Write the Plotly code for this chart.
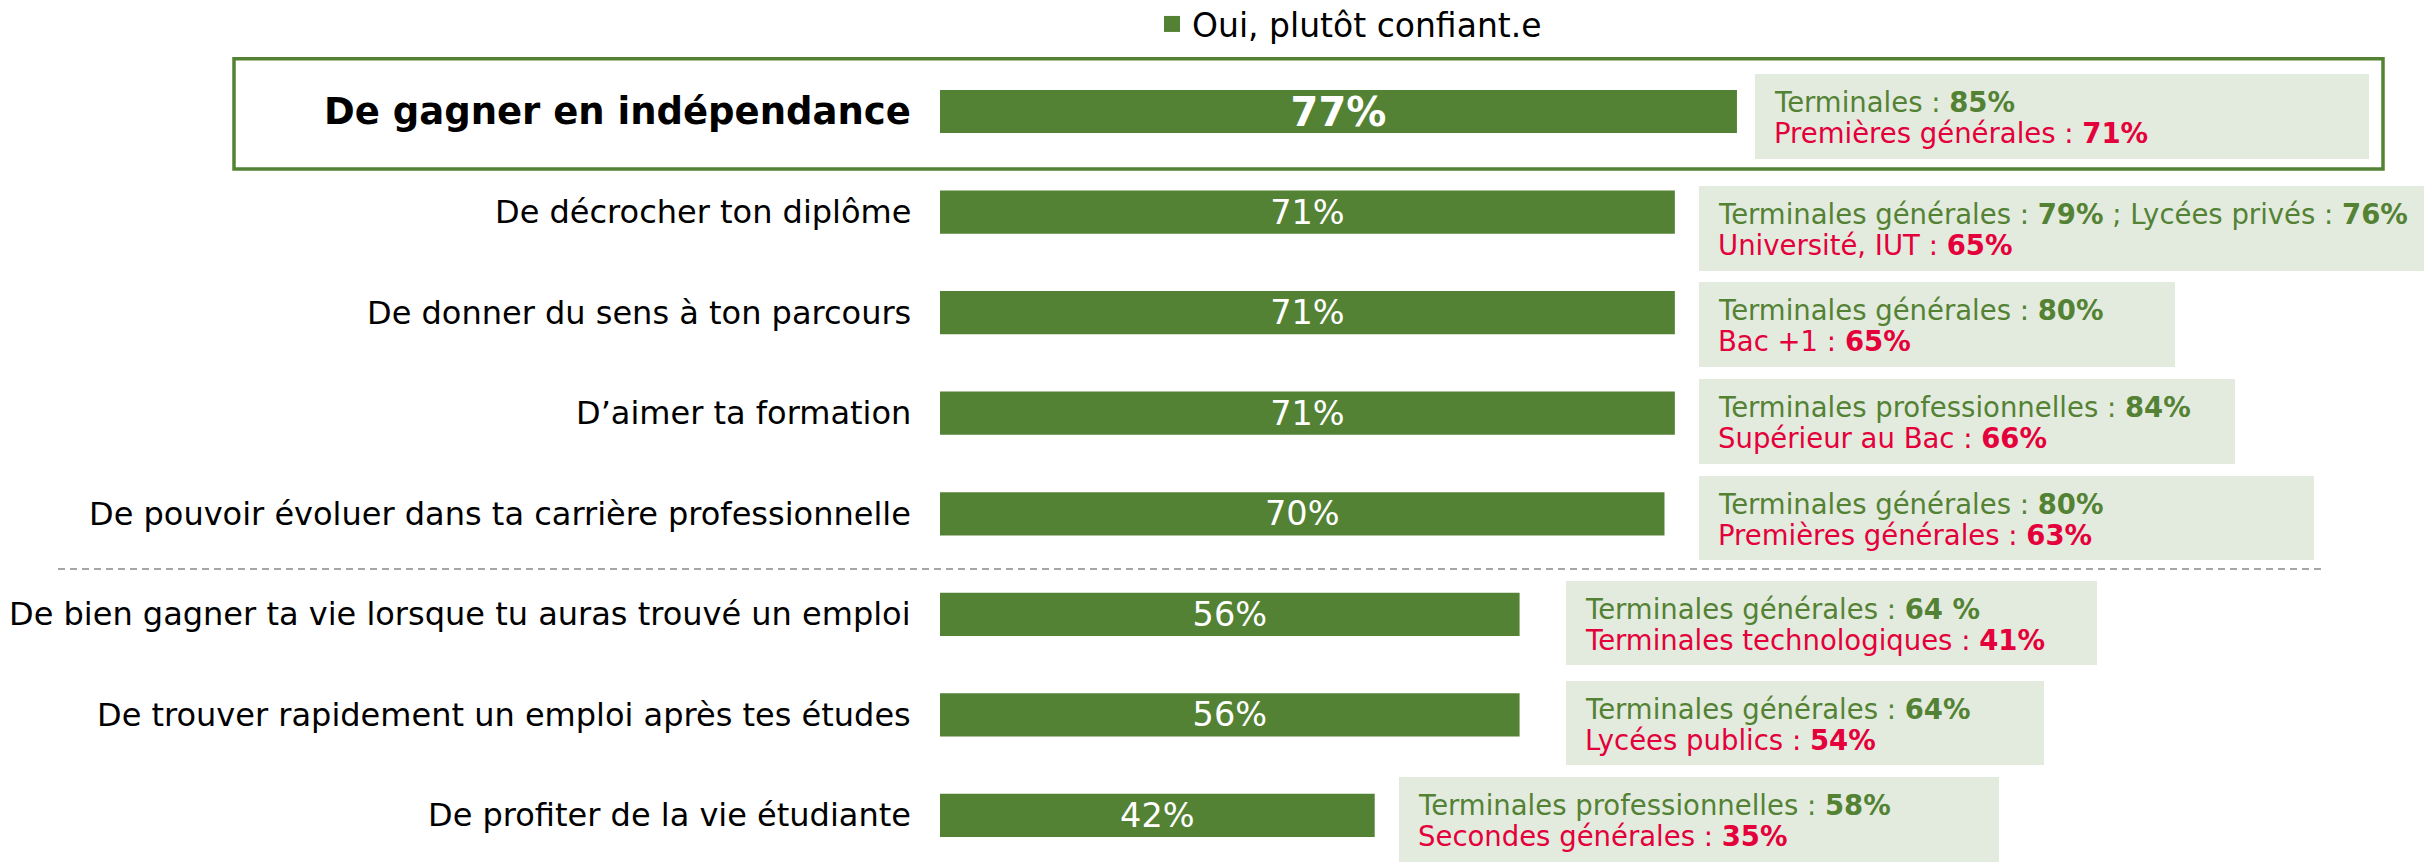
import plotly.graph_objects as go

FIG_W, FIG_H = 2432, 865
GREEN = "#548235"
RED = "#E4003B"
BOX_BG = "#E3EBDE"
FONT = "DejaVu Sans"

items = [
    "De gagner en indépendance",
    "De décrocher ton diplôme",
    "De donner du sens à ton parcours",
    "D’aimer ta formation",
    "De pouvoir évoluer dans ta carrière professionnelle",
    "De bien gagner ta vie lorsque tu auras trouvé un emploi",
    "De trouver rapidement un emploi après tes études",
    "De profiter de la vie étudiante",
]
confident = [77, 71, 71, 71, 70, 56, 56, 42]

high_groups = [
    ["Terminales"],
    ["Terminales générales", "Lycées privés"],
    ["Terminales générales"],
    ["Terminales professionnelles"],
    ["Terminales générales"],
    ["Terminales générales"],
    ["Terminales générales"],
    ["Terminales professionnelles"],
]
high_values = [["85%"], ["79%", "76%"], ["80%"], ["84%"], ["80%"], ["64 %"], ["64%"], ["58%"]]

low_groups = [
    "Premières générales",
    "Université, IUT",
    "Bac +1",
    "Supérieur au Bac",
    "Premières générales",
    "Terminales technologiques",
    "Lycées publics",
    "Secondes générales",
]
low_values = ["71%", "65%", "65%", "66%", "63%", "41%", "54%", "35%"]

# pixel geometry of the layout (left, right, top, bottom of each callout box)
CALLOUT_BOXES = [
    (1755, 2369, 74, 159),
    (1699, 2440, 186, 271),
    (1699, 2175, 282, 367),
    (1699, 2235, 379, 464),
    (1699, 2314, 476, 560),
    (1566, 2097, 581, 665),
    (1566, 2044, 681, 765),
    (1399, 1999, 777, 862),
]
OFF = 8             # the page body margin shifts the figure by this many pixels
ZERO_X = 940        # pixel of 0 %
PX_PER_PCT = 10.35
ROW0_Y = 111.5      # pixel centre of first row
ROW_STEP = 100.57
LABEL_RIGHT = 911


def px(x):
    return (x - OFF) / FIG_W


def py(y):
    return 1 - (y - OFF) / FIG_H


fig = go.Figure()
fig.add_trace(
    go.Bar(
        x=confident,
        y=items,
        orientation="h",
        width=0.43,
        marker={"color": GREEN, "line": {"width": 0}},
        text=[f"<b>{v}%</b>" if i == 0 else f"{v}%" for i, v in enumerate(confident)],
        textposition="inside",
        insidetextanchor="middle",
        constraintext="none",
        textfont={"family": FONT, "color": "white",
                  "size": [40 if i == 0 else 33.5 for i in range(len(confident))]},
        showlegend=False,
        hoverinfo="skip",
    )
)
# legend entry with a larger square swatch than the bar icon
fig.add_trace(
    go.Scatter(
        x=[None], y=[None], mode="markers",
        marker={"symbol": "square", "size": 18, "color": GREEN},
        name="Oui, plutôt confiant.e",
        showlegend=True,
    )
)

annotations = []
for i, label in enumerate(items):
    annotations.append(dict(
        x=px(LABEL_RIGHT), xref="paper", xanchor="right",
        y=label, yref="y", yanchor="middle",
        text=f"<b>{label}</b>" if i == 0 else label,
        showarrow=False, borderpad=0, borderwidth=0,
        font={"family": FONT, "size": 37 if i == 0 else 32, "color": "black"},
    ))

shapes = []
for i, (x0, x1, y0, y1) in enumerate(CALLOUT_BOXES):
    shapes.append(dict(
        type="rect", xref="paper", yref="paper",
        x0=px(x0), x1=px(x1), y0=py(y1), y1=py(y0),
        fillcolor=BOX_BG, line={"width": 0}, layer="below",
    ))
    high = " ; ".join(f"{g} : <b>{v}</b>" for g, v in zip(high_groups[i], high_values[i]))
    low = f"{low_groups[i]} : <b>{low_values[i]}</b>"
    for text, color, dy in ((high, GREEN, 28), (low, RED, 59)):
        annotations.append(dict(
            x=px(x0 + 19), xref="paper", xanchor="left",
            y=py(y0 + dy), yref="paper", yanchor="middle",
            text=text, align="left", showarrow=False,
            borderpad=0, borderwidth=0,
            font={"family": FONT, "size": 27.5, "color": color},
        ))

# highlight frame around the first item
shapes.append(dict(
    type="rect", xref="paper", yref="paper",
    x0=px(234), x1=px(2383), y0=py(169), y1=py(58.7),
    line={"color": GREEN, "width": 3.5}, fillcolor="rgba(0,0,0,0)",
))
# dashed separator between the two groups of items
shapes.append(dict(
    type="line", xref="paper", yref="y",
    x0=px(58), x1=px(2321), y0=4.55, y1=4.55,
    line={"color": "#A6A6A6", "width": 2, "dash": "7px,5px"},
))

fig.update_layout(
    width=FIG_W,
    height=FIG_H,
    margin={"l": 0, "r": 0, "t": 0, "b": 0, "autoexpand": False},
    plot_bgcolor="white",
    paper_bgcolor="white",
    xaxis={"visible": False,
           "range": [(OFF - ZERO_X) / PX_PER_PCT, (OFF + FIG_W - ZERO_X) / PX_PER_PCT]},
    yaxis={"visible": False, "type": "category", "categoryarray": items,
           "range": [(OFF + FIG_H - ROW0_Y) / ROW_STEP, (OFF - ROW0_Y) / ROW_STEP]},
    legend={"orientation": "h", "x": px(1152), "xanchor": "left",
            "y": py(24), "yanchor": "middle",
            "font": {"family": FONT, "size": 33, "color": "black"},
            "bgcolor": "rgba(0,0,0,0)"},
    shapes=shapes,
    annotations=annotations,
    font={"family": FONT},
)

fig.write_html("out.html")
